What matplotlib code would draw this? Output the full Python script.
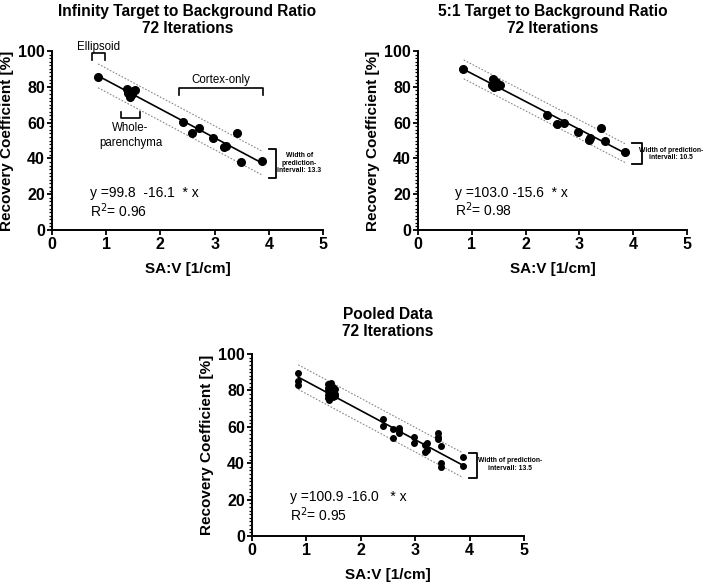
import matplotlib
matplotlib.use("Agg")
import matplotlib.pyplot as plt
import numpy as np
from matplotlib.ticker import MultipleLocator
from matplotlib import font_manager

plt.rcParams['font.family'] = ['Liberation Sans', 'DejaVu Sans']

# ---------------- data ----------------
inf_x = [0.85, 1.38, 1.41, 1.44, 1.47, 1.50, 1.53, 2.41, 2.59, 2.72, 2.97, 3.18, 3.21, 3.42, 3.48, 3.87]
inf_y = [85.5, 79.0, 76.5, 74.5, 76.0, 77.5, 78.0, 60.6, 54.3, 57.1, 51.5, 46.3, 47.2, 54.3, 37.9, 38.8]

r51_x = [0.84, 1.38, 1.40, 1.42, 1.45, 1.48, 1.52, 2.40, 2.58, 2.71, 2.97, 3.17, 3.20, 3.41, 3.48, 3.85]
r51_y = [89.8, 81.0, 84.2, 79.8, 82.5, 80.5, 81.0, 64.2, 59.0, 59.6, 54.7, 50.1, 51.4, 56.8, 49.7, 43.8]

pool_x = [0.85, 0.85, 0.85,
          1.40, 1.40, 1.40, 1.40, 1.40, 1.42, 1.45, 1.45, 1.45, 1.48, 1.48, 1.52, 1.52, 1.52,
          2.41, 2.41, 2.59, 2.59, 2.71, 2.71, 2.71, 2.97, 2.97,
          3.18, 3.18, 3.21, 3.21, 3.42, 3.42, 3.42, 3.48, 3.48, 3.48, 3.87, 3.87]
pool_y = [89.4, 85.2, 83.0,
          83.5, 81.5, 79.5, 77.5, 76.0, 75.0, 84.0, 80.5, 78.0, 82.0, 76.5, 81.0, 78.0, 77.0,
          64.3, 60.6, 59.0, 54.0, 59.5, 57.9, 56.4, 54.6, 51.3,
          50.0, 46.3, 51.0, 47.3, 56.8, 54.6, 53.1, 49.5, 39.9, 38.1, 43.6, 38.6]

fits = {
    'inf': dict(a=99.8, b=-16.1, pi=13.3, r2=0.96),
    'r51': dict(a=103.0, b=-15.6, pi=10.5, r2=0.98),
    'pool': dict(a=100.9, b=-16.0, pi=13.5, r2=0.95),
}
fit_range = [0.85, 3.87]

titles = ["Infinity Target to Background Ratio\n72 Iterations",
          "5:1 Target to Background Ratio\n72 Iterations",
          "Pooled Data\n72 Iterations"]
eq_texts = ["y =99.8  -16.1  * x", "y =103.0 -15.6  * x", "y =100.9 -16.0   * x"]
r2_texts = ["R$^2$= 0.96", "R$^2$= 0.98", "R$^2$= 0.95"]
pi_texts = ["Width of\nprediction-\nintervall: 13.3",
            "Width of prediction-\nintervall: 10.5",
            "Width of prediction-\nintervall: 13.5"]

names = {f.name for f in font_manager.fontManager.ttflist}
small_family = ['Liberation Sans Narrow', 'Liberation Sans'] if 'Liberation Sans Narrow' in names else ['Liberation Sans']
small_size = 5.8 if 'Liberation Sans Narrow' in names else 4.9

W, H = 708, 583
fig = plt.figure(figsize=(W / 100, H / 100), dpi=100)

def ax_at(l, r, t, b):
    return fig.add_axes([l / W, 1 - b / H, (r - l) / W, (b - t) / H])

ax1 = ax_at(52, 323, 51, 230)
ax2 = ax_at(418, 687, 51, 230)
ax3 = ax_at(252, 524, 354, 536)

def style(ax, title):
    ax.set_xlim(0, 5)
    ax.set_ylim(0, 100)
    ax.spines['top'].set_visible(False)
    ax.spines['right'].set_visible(False)
    for s in ['left', 'bottom']:
        ax.spines[s].set_linewidth(1.4)
    ax.xaxis.set_major_locator(MultipleLocator(1))
    ax.yaxis.set_major_locator(MultipleLocator(20))
    ax.yaxis.set_minor_locator(MultipleLocator(2))
    ax.tick_params(which='major', length=3.5, width=1.3, labelsize=11.5, pad=1.5)
    ax.tick_params(which='minor', length=2.0, width=0.9)
    for lab in ax.get_xticklabels() + ax.get_yticklabels():
        lab.set_fontweight('bold')
    ax.set_xlabel("SA:V [1/cm]", fontsize=11, fontweight='bold', labelpad=7)
    ax.set_ylabel("Recovery Coefficient [%]", fontsize=11, fontweight='bold', labelpad=3)
    ax.set_title(title, fontsize=11.2, fontweight='bold', pad=13, linespacing=1.2)

def draw_fit(ax, f, eq, r2, eqpos, pitext, brx, bry, textx, texty):
    xs = np.array(fit_range)
    ys = f['a'] + f['b'] * xs
    ax.plot(xs, ys, color='black', lw=1.2, zorder=3)
    h = f['pi'] / 2
    ax.plot(xs, ys + h, color='#888888', lw=0.8, ls=(0, (1.5, 1.5)), zorder=2)
    ax.plot(xs, ys - h, color='#888888', lw=0.8, ls=(0, (1.5, 1.5)), zorder=2)
    ax.text(eqpos[0], eqpos[1], eq, fontsize=10, va='center', ha='left')
    ax.text(eqpos[0], eqpos[1] - 9.8, r2, fontsize=10, va='center', ha='left')
    ax.plot([brx[0], brx[1], brx[1], brx[0]], [bry[0], bry[0], bry[1], bry[1]],
            color='black', lw=1.3, clip_on=False)
    ax.text(textx, texty, pitext, fontsize=small_size, fontweight='bold', ha='center',
            va='center', linespacing=1.15, clip_on=False, family=small_family)

style(ax1, titles[0])
style(ax2, titles[1])
style(ax3, titles[2])

ax1.plot(inf_x, inf_y, 'o', color='black', ms=5.5, zorder=4)
ax2.plot(r51_x, r51_y, 'o', color='black', ms=5.5, zorder=4)
ax3.plot(pool_x, pool_y, 'o', color='black', ms=4.0, zorder=4)

draw_fit(ax1, fits['inf'], eq_texts[0], r2_texts[0], (0.70, 20.8), pi_texts[0],
         (4.01, 4.13), (45.2, 28.8), 4.56, 37.3)
draw_fit(ax2, fits['r51'], eq_texts[1], r2_texts[1], (0.68, 20.9), pi_texts[1],
         (3.98, 4.17), (48.4, 36.9), 4.71, 42.4)
draw_fit(ax3, fits['pool'], eq_texts[2], r2_texts[2], (0.70, 21.6), pi_texts[2],
         (3.99, 4.13), (45.8, 31.7), 4.74, 39.2)

# group brackets on the first panel
ax1.plot([0.73, 0.73, 0.98, 0.98], [95.0, 98.9, 98.9, 95.0], color='black', lw=1.2, clip_on=False)
ax1.text(0.85, 102.3, "Ellipsoid", fontsize=8.3, ha='center', va='center', clip_on=False)
ax1.plot([2.35, 2.35, 3.90, 3.90], [75.3, 79.5, 79.5, 75.3], color='black', lw=1.2)
ax1.text(3.12, 84.0, "Cortex-only", fontsize=8.3, ha='center', va='center')
ax1.plot([1.27, 1.27, 1.62, 1.62], [66.0, 62.3, 62.3, 66.0], color='black', lw=1.2)
ax1.text(1.45, 52.8, "Whole-\nparenchyma", fontsize=8.3, ha='center', va='center', linespacing=1.3)

fig.savefig("out.png", dpi=100)
